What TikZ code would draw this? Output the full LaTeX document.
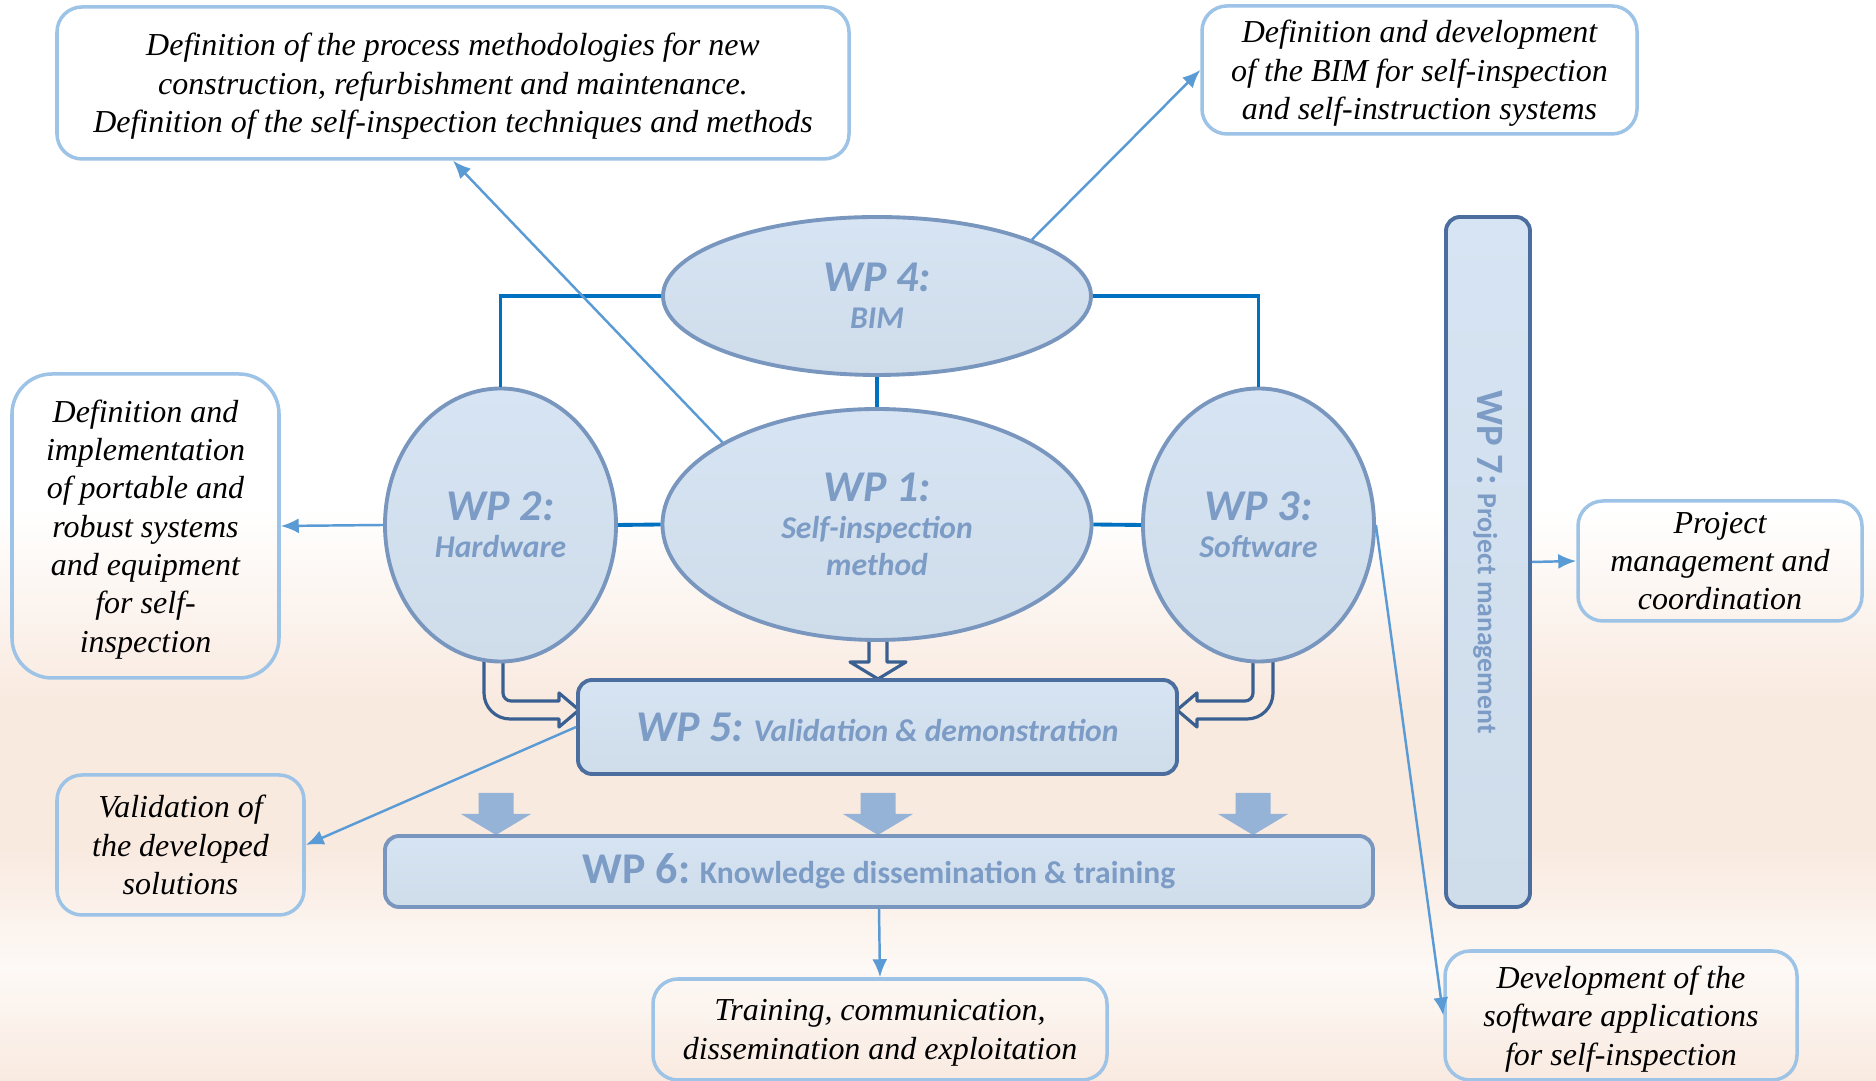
\documentclass[tikz,border=0pt]{standalone}
\usepackage{fontspec}
\setmainfont{Liberation Serif}
\newfontfamily\wpfont{Carlito}
\usetikzlibrary{arrows.meta}
\usetikzlibrary{shapes.geometric}
\definecolor{wpline}{RGB}{0,112,192}
\definecolor{thinline}{RGB}{91,155,213}
\definecolor{boxline}{RGB}{157,195,230}
\definecolor{wptext}{RGB}{124,156,198}
\definecolor{wpedge}{RGB}{120,150,190}
\definecolor{wpdark}{RGB}{75,110,158}
\definecolor{wptop}{RGB}{214,228,243}
\definecolor{wpbot}{RGB}{207,220,234}
\definecolor{hollowline}{RGB}{58,95,145}
\definecolor{blockfill}{RGB}{149,179,215}
\definecolor{peach}{RGB}{249,234,224}
\definecolor{paleback}{RGB}{253,249,246}
\newcommand{\wpbig}{\fontsize{12.5}{13}\selectfont}

\begin{document}
\begin{tikzpicture}[
    wp/.style={ellipse, draw=wpedge, line width=1.1pt, top color=wptop, bottom color=wpbot,
      inner sep=0pt, align=center, text=wptext, font=\wpfont\bfseries\itshape\fontsize{9}{10.5}\selectfont},
    wpbar/.style={rectangle, rounded corners=0.14cm, draw=wpdark, line width=1.1pt, top color=wptop,
      bottom color=wpbot, inner sep=0pt, text=wptext, font=\wpfont\bfseries\fontsize{9}{10.5}\selectfont},
    taskbox/.style={rectangle, rounded corners=0.25cm, draw=boxline, line width=1pt, align=center,
      inner sep=0pt, text depth=-0.06cm, font=\fontsize{9.1}{10.9}\selectfont\itshape},
    wplink/.style={wpline, line width=1.1pt},
    feed/.style={thinline, line width=0.7pt, -{Latex[length=1.8mm,width=1.5mm]}},
    hollowarrow/.style={hollowline, line width=0.9pt, line join=round},
    blockarrow/.style={fill=blockfill}
  ]
    \useasboundingbox (0,0) rectangle (18.76,-10.81);

    \fill [white] (0,0) rectangle (18.76,-10.81);
    \shade [top color=white, bottom color=peach] (0,-5.08) rectangle (18.76,-7.0);
    \fill [peach] (0,-6.99) rectangle (18.76,-8.5);
    \shade [top color=peach, bottom color=paleback] (0,-8.49) rectangle (18.76,-9.7);
    \shade [top color=paleback, bottom color=peach] (0,-9.69) rectangle (18.76,-10.81);

    \draw [hollowarrow] (8.69,-6.30) -- (8.69,-6.62) -- (8.50,-6.62) -- (8.78,-6.79) -- (9.06,-6.62) -- (8.87,-6.62) -- (8.87,-6.30);
    \draw [hollowarrow] (5.03,-6.50) -- (5.03,-6.93) arc [start angle=180, end angle=270, radius=0.08] -- (5.59,-7.01) -- (5.59,-6.93) -- (5.79,-7.10) -- (5.59,-7.27) -- (5.59,-7.19) -- (5.10,-7.19) arc [start angle=270, end angle=180, radius=0.26] -- (4.84,-6.50);
    \draw [hollowarrow] (12.53,-6.50) -- (12.53,-6.93) arc [start angle=0, end angle=-90, radius=0.08] -- (11.97,-7.01) -- (11.97,-6.93) -- (11.77,-7.10) -- (11.97,-7.27) -- (11.97,-7.19) -- (12.47,-7.19) arc [start angle=-90, end angle=0, radius=0.26] -- (12.73,-6.50);

    \foreach \x in {4.96, 8.78, 12.53} {
      \fill [blockarrow] (\x-0.175,-7.93) -- (\x-0.175,-8.14) -- (\x-0.35,-8.14) -- (\x,-8.35) -- (\x+0.35,-8.14) -- (\x+0.175,-8.14) -- (\x+0.175,-7.93) -- cycle;
    }

    \node [wp, minimum width=4.28cm, minimum height=1.58cm] (wp4) at (8.77,-2.96) {{\wpbig WP 4:}\\BIM};
    \node [wp, minimum width=4.29cm, minimum height=2.31cm] (wp1) at (8.77,-5.245) {{\wpbig WP 1:}\\Self-inspection\\method};
    \node [wp, minimum width=2.31cm, minimum height=2.73cm] (wp2) at (5.005,-5.25) {{\wpbig WP 2:}\\Hardware};
    \node [wp, minimum width=2.31cm, minimum height=2.73cm] (wp3) at (12.585,-5.25) {{\wpbig WP 3:}\\Software};

    \node [wpbar, minimum width=5.99cm, minimum height=0.94cm] (wp5) at (8.775,-7.27) {\itshape{\wpbig WP 5:} Validation \& demonstration};
    \node [wpbar, draw=wpedge, minimum width=9.88cm, minimum height=0.71cm] (wp6) at (8.79,-8.715) {{\wpbig WP 6:} Knowledge dissemination \& training};
    \node [wpbar, rotate=-90, minimum width=6.90cm, minimum height=0.84cm, font=\wpfont\bfseries\fontsize{7.9}{9}\selectfont] (wp7) at (14.88,-5.62) {{\fontsize{11}{12}\selectfont WP 7:} Project management};

    \node [taskbox, minimum width=7.92cm, minimum height=1.52cm] (tlbox) at (4.53,-0.83) {Definition of the process methodologies for new\\construction, refurbishment and maintenance.\\Definition of the self-inspection techniques and methods};
    \node [taskbox, minimum width=4.35cm, minimum height=1.28cm] (trbox) at (14.195,-0.70) {Definition and development\\of the BIM for self-inspection\\and self-instruction systems};
    \node [taskbox, rounded corners=0.4cm, minimum width=2.67cm, minimum height=3.04cm] (lbox) at (1.455,-5.26) {Definition and\\implementation\\of portable and\\robust systems\\and equipment\\for self-\\inspection};
    \node [taskbox, minimum width=2.47cm, minimum height=1.40cm] (vbox) at (1.805,-8.45) {Validation of\\the developed\\solutions};
    \node [taskbox, minimum width=2.84cm, minimum height=1.20cm] (pbox) at (17.20,-5.61) {Project\\management and\\coordination};
    \node [taskbox, minimum width=4.54cm, minimum height=1.01cm] (tbox) at (8.80,-10.295) {Training, communication,\\dissemination and exploitation};
    \node [taskbox, minimum width=3.52cm, minimum height=1.29cm] (dbox) at (16.21,-10.155) {Development of the\\software applications\\for self-inspection};

    \draw [wplink] (wp4.west) -| (wp2.north);
    \draw [wplink] (wp4.east) -| (wp3.north);
    \draw [wplink] (wp4.south) -- (wp1.north);
    \draw [wplink] (wp2.east) -- (wp1.west);
    \draw [wplink] (wp1.east) -- (wp3.west);

    \draw [feed] (wp1.152) -- (tlbox.south);
    \draw [feed] (wp4.20) -- (trbox.west);
    \draw [feed] (wp2.west) -- (lbox.east);
    \draw [feed] (wp5.west) -- (vbox.east);
    \draw [feed] (wp7.north) -- (pbox.west);
    \draw [feed] (wp6.south) -- (tbox.north);
    \draw [feed] (wp3.east) -- (dbox.west);
  \end{tikzpicture}
\end{document}
